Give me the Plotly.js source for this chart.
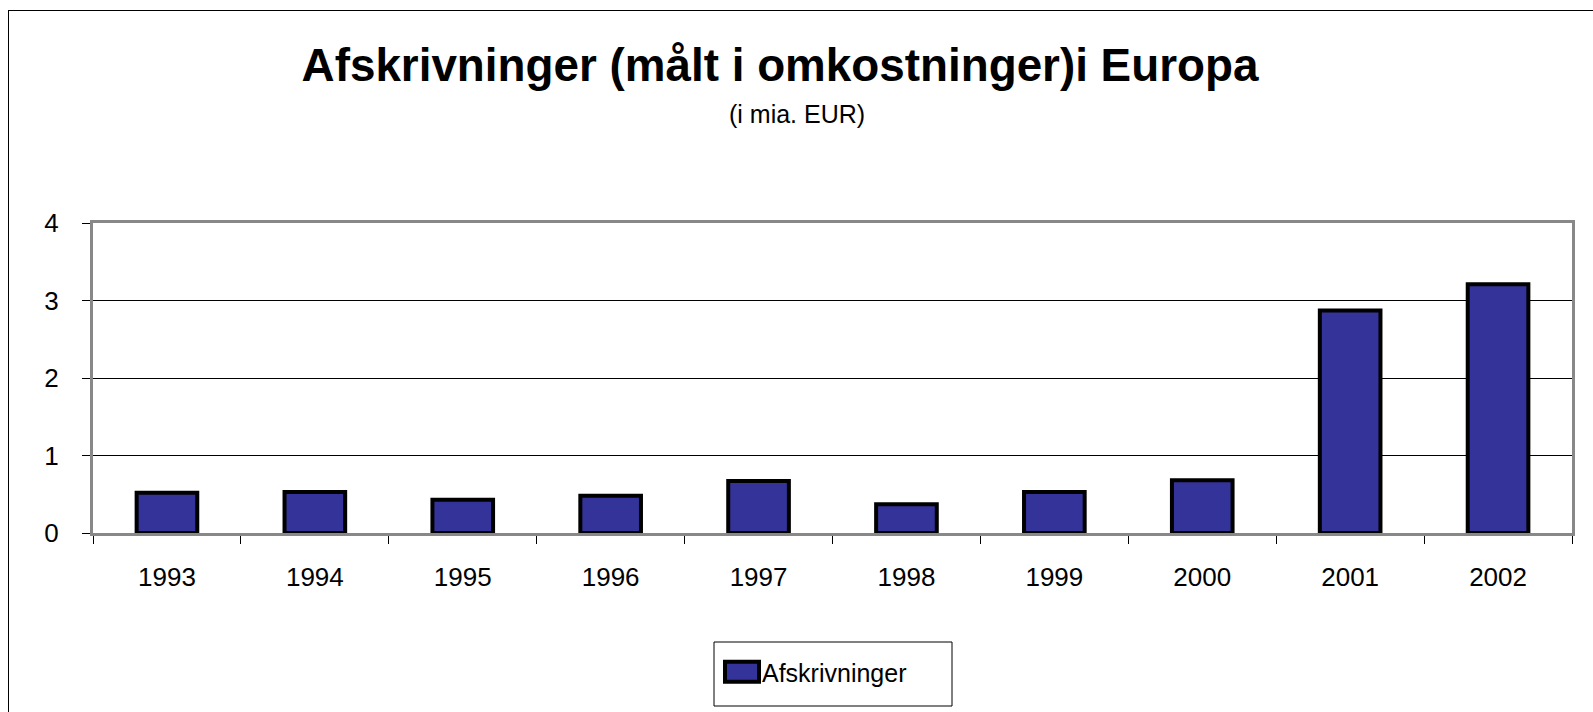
<!DOCTYPE html>
<html>
<head>
<meta charset="utf-8">
<script src="https://cdn.plot.ly/plotly-3.0.1.min.js"></script>
<style>
  html, body { margin: 0; padding: 0; overflow: hidden; background: #fff; }
  #wrap { position: relative; width: 1593px; height: 712px; overflow: hidden; }
  #chart { position: absolute; left: 0; top: 0; width: 1593px; height: 712px; }
  #frame { position: absolute; left: 8px; top: 10px; width: 1700px; height: 800px;
           border-left: 1px solid #000; border-top: 1px solid #000; pointer-events: none; }
</style>
</head>
<body>
<div id="wrap">
  <div id="chart"></div>
  <div id="frame"></div>
</div>
<script>
// Data
const years = ["1993", "1994", "1995", "1996", "1997", "1998", "1999", "2000", "2001", "2002"];
const afskrivninger = [0.52, 0.53, 0.43, 0.48, 0.67, 0.37, 0.53, 0.68, 2.87, 3.21];
const seriesName = "Afskrivninger";
const yTicks = [0, 1, 2, 3, 4];
const titleText = "Afskrivninger (målt i omkostninger)i Europa";
const subtitleText = "(i mia. EUR)";

const FONT = "Arial, 'Liberation Sans', sans-serif";

const trace = {
  type: "bar",
  x: years,
  y: afskrivninger,
  name: seriesName,
  width: 0.41,
  marker: { color: "#333399", line: { color: "#000000", width: 4 } },
  showlegend: true,
  hoverinfo: "x+y"
};

const layout = {
  width: 1593,
  height: 712,
  margin: { l: 93, r: 21, t: 223, b: 179, pad: 0 },
  paper_bgcolor: "#ffffff",
  plot_bgcolor: "#ffffff",
  font: { family: FONT, size: 25, color: "#000000" },
  title: {
    text: titleText,
    font: { family: FONT, size: 45.8, weight: "bold", color: "#000000" },
    xref: "container", x: 780 / 1593, xanchor: "center",
    yref: "container", y: 1 - 65 / 712, yanchor: "middle"
  },
  annotations: [{
    text: subtitleText,
    xref: "paper", yref: "paper",
    x: (797 - 93) / 1479, y: (533 - 114) / 310,
    xanchor: "center", yanchor: "middle",
    showarrow: false,
    font: { family: FONT, size: 25, color: "#000000" }
  }],
  xaxis: {
    type: "category",
    showline: true, linecolor: "#888888", linewidth: 3, mirror: true,
    ticks: "outside", tickson: "boundaries", ticklen: 8, tickwidth: 1, tickcolor: "#000000",
    ticklabelstandoff: 19,
    showgrid: false, zeroline: false,
    tickfont: { family: FONT, size: 26, color: "#000000" }
  },
  yaxis: {
    range: [0, 4],
    tickvals: yTicks,
    ticktext: yTicks.map(String),
    showline: true, linecolor: "#888888", linewidth: 3, mirror: true,
    ticks: "outside", ticklen: 8, tickwidth: 1, tickcolor: "#000000",
    ticklabelstandoff: 18,
    showgrid: true, gridcolor: "#000000", gridwidth: 1,
    zeroline: false,
    tickfont: { family: FONT, size: 26, color: "#000000" }
  },
  showlegend: true,
  legend: {
    x: (722 - 93) / 1479, xanchor: "left",
    y: (533 - 649) / 310, yanchor: "top",
    bgcolor: "rgba(0,0,0,0)",
    borderwidth: 0,
    font: { family: FONT, size: 25, color: "#000000" }
  },
  shapes: [{
    type: "rect", xref: "paper", yref: "paper",
    x0: (714 - 93) / 1479, x1: (952 - 93) / 1479,
    y0: (533 - 642) / 310, y1: (533 - 706) / 310,
    line: { color: "#000000", width: 1 }, fillcolor: "rgba(0,0,0,0)", layer: "below"
  }],
  bargap: 0.59
};

Plotly.newPlot("chart", [trace], layout, { displayModeBar: false, staticPlot: true }).then(function (gd) {
  // enlarge the legend swatch to the wide rectangle used in the reference
  document.querySelectorAll("#chart .legendpoints path").forEach(function (p) {
    p.setAttribute("d", "M17,10H-17V-10H17Z");
  });
});
</script>
</body>
</html>
